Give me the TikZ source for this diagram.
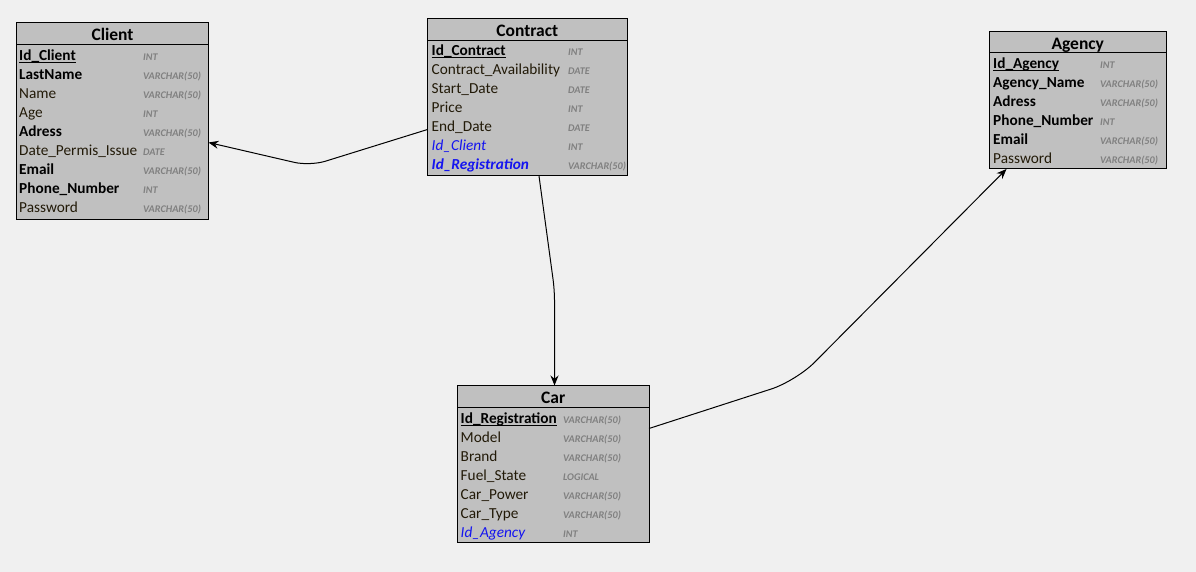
\documentclass[tikz,border=0pt]{standalone}
\usepackage{fontspec}
\setmainfont{Carlito}
\usetikzlibrary{arrows.meta,calc}

\definecolor{canvas}{HTML}{F0F0F0}
\definecolor{tablegrey}{HTML}{C0C0C0}
\definecolor{fieldtext}{HTML}{221A08}
\definecolor{fkblue}{HTML}{1414F0}
\definecolor{typegrey}{HTML}{808080}

\newcommand\fieldsize{\fontsize{15.3}{16}\selectfont}
% one attribute row: node name, style, x, baseline, text, type x, type
\newcommand\erow[7]{%
  \node[#2] (#1) at (#3,#4+0.7) {#5};
  \node[typ] (#1t) at (#6,#4+0.7) {#7};}

\tikzset{
  tbl/.style={draw=black, line width=1pt, fill=tablegrey, inner sep=0pt, outer sep=0pt, anchor=north west},
  ttl/.style={font=\fontsize{17.5}{18}\selectfont\bfseries, text=black, anchor=base, inner sep=0pt},
  fld/.style={font=\fieldsize, text=fieldtext, anchor=base west, inner sep=0pt},
  bfld/.style={font=\fieldsize\bfseries, text=black, anchor=base west, inner sep=0pt},
  fkey/.style={font=\fieldsize\itshape, text=fkblue, anchor=base west, inner sep=0pt},
  bfkey/.style={font=\fieldsize\bfseries\itshape, text=fkblue, anchor=base west, inner sep=0pt},
  typ/.style={font=\fontsize{10.2}{11}\selectfont\bfseries\itshape, text=typegrey, anchor=base west, inner sep=0pt},
  sepline/.style={draw=black, line width=1pt},
  uline/.style={draw=black, line width=1.1pt},
  rel/.style={draw=black, line width=1pt, -{Stealth[length=10pt,width=8pt]}}
}

\begin{document}
\begin{tikzpicture}[x=1pt,y=-1pt]
  \fill[canvas] (0,0) rectangle (1196,572);
  \useasboundingbox (0,0) rectangle (1196,572);

  % ---- Client ----
  \node[tbl, minimum width=192pt, minimum height=196.5pt] (client) at (16.5,22.5) {};
  \draw[sepline] ($(client.north west)+(0,22)$) -- ($(client.north east)+(0,22)$);
  \node[ttl] (clientT) at (112.5,40.5) {Client};
  \erow{cl1}{bfld}{19}{60}{Id\_Client}{143}{INT}
  \erow{cl2}{bfld}{19}{79}{LastName}{143}{VARCHAR(50)}
  \erow{cl3}{fld}{19}{98}{Name}{143}{VARCHAR(50)}
  \erow{cl4}{fld}{19}{117}{Age}{143}{INT}
  \erow{cl5}{bfld}{19}{136}{Adress}{143}{VARCHAR(50)}
  \erow{cl6}{fld}{19}{155}{Date\_Permis\_Issue}{143}{DATE}
  \erow{cl7}{bfld}{19}{174}{Email}{143}{VARCHAR(50)}
  \erow{cl8}{bfld}{19}{193}{Phone\_Number}{143}{INT}
  \erow{cl9}{fld}{19}{212}{Password}{143}{VARCHAR(50)}
  \draw[uline] ($(cl1.base west)+(0,2)$) -- ($(cl1.base east)+(0,2)$);

  % ---- Contract ----
  \node[tbl, minimum width=199.5pt, minimum height=157.5pt] (contract) at (427.5,18.5) {};
  \draw[sepline] ($(contract.north west)+(0,22)$) -- ($(contract.north east)+(0,22)$);
  \node[ttl] (contractT) at (527.25,36.2) {Contract};
  \erow{ct1}{bfld}{431.5}{55}{Id\_Contract}{568}{INT}
  \erow{ct2}{fld}{431.5}{74}{Contract\_Availability}{568}{DATE}
  \erow{ct3}{fld}{431.5}{93}{Start\_Date}{568}{DATE}
  \erow{ct4}{fld}{431.5}{112}{Price}{568}{INT}
  \erow{ct5}{fld}{431.5}{131}{End\_Date}{568}{DATE}
  \erow{ct6}{fkey}{431.5}{150}{Id\_Client}{568}{INT}
  \erow{ct7}{bfkey}{431.5}{169}{Id\_Registration}{568}{VARCHAR(50)}
  \draw[uline] ($(ct1.base west)+(0,2)$) -- ($(ct1.base east)+(0,2)$);

  % ---- Agency ----
  \node[tbl, minimum width=176.5pt, minimum height=137.5pt] (agency) at (989.5,31.5) {};
  \draw[sepline] ($(agency.north west)+(0,20.7)$) -- ($(agency.north east)+(0,20.7)$);
  \node[ttl] (agencyT) at (1077.75,50) {Agency};
  \erow{ag1}{bfld}{993}{67.5}{Id\_Agency}{1100}{INT}
  \erow{ag2}{bfld}{993}{86.5}{Agency\_Name}{1100}{VARCHAR(50)}
  \erow{ag3}{bfld}{993}{105.5}{Adress}{1100}{VARCHAR(50)}
  \erow{ag4}{bfld}{993}{124.5}{Phone\_Number}{1100}{INT}
  \erow{ag5}{bfld}{993}{143.5}{Email}{1100}{VARCHAR(50)}
  \erow{ag6}{fld}{993}{162.5}{Password}{1100}{VARCHAR(50)}
  \draw[uline] ($(ag1.base west)+(0,2)$) -- ($(ag1.base east)+(0,2)$);

  % ---- Car ----
  \node[tbl, minimum width=191.5pt, minimum height=157pt] (car) at (457.5,385.5) {};
  \draw[sepline] ($(car.north west)+(0,21.5)$) -- ($(car.north east)+(0,21.5)$);
  \node[ttl] (carT) at (553.25,403.2) {Car};
  \erow{ca1}{bfld}{460.5}{422.7}{Id\_Registration}{563}{VARCHAR(50)}
  \erow{ca2}{fld}{460.5}{441.7}{Model}{563}{VARCHAR(50)}
  \erow{ca3}{fld}{460.5}{460.7}{Brand}{563}{VARCHAR(50)}
  \erow{ca4}{fld}{460.5}{479.7}{Fuel\_State}{563}{LOGICAL}
  \erow{ca5}{fld}{460.5}{498.7}{Car\_Power}{563}{VARCHAR(50)}
  \erow{ca6}{fld}{460.5}{517.7}{Car\_Type}{563}{VARCHAR(50)}
  \erow{ca7}{fkey}{460.5}{536.7}{Id\_Agency}{563}{INT}
  \draw[uline] ($(ca1.base west)+(0,2)$) -- ($(ca1.base east)+(0,2)$);

  % ---- relationships ----
  \draw[rel, rounded corners=16pt] ($(contract.north west)+(0,111)$) -- (310,166) -- ($(client.north east)+(0,120)$);
  \draw[rel, rounded corners=10pt] ($(contract.south west)+(111.5,0)$) -- (554.5,290) -- ($(car.north west)+(97,0)$);
  \draw[rel, rounded corners=26pt] ($(car.north east)+(0,43)$) -- (796,381) -- ($(agency.south west)+(17,0)$);
\end{tikzpicture}
\end{document}
